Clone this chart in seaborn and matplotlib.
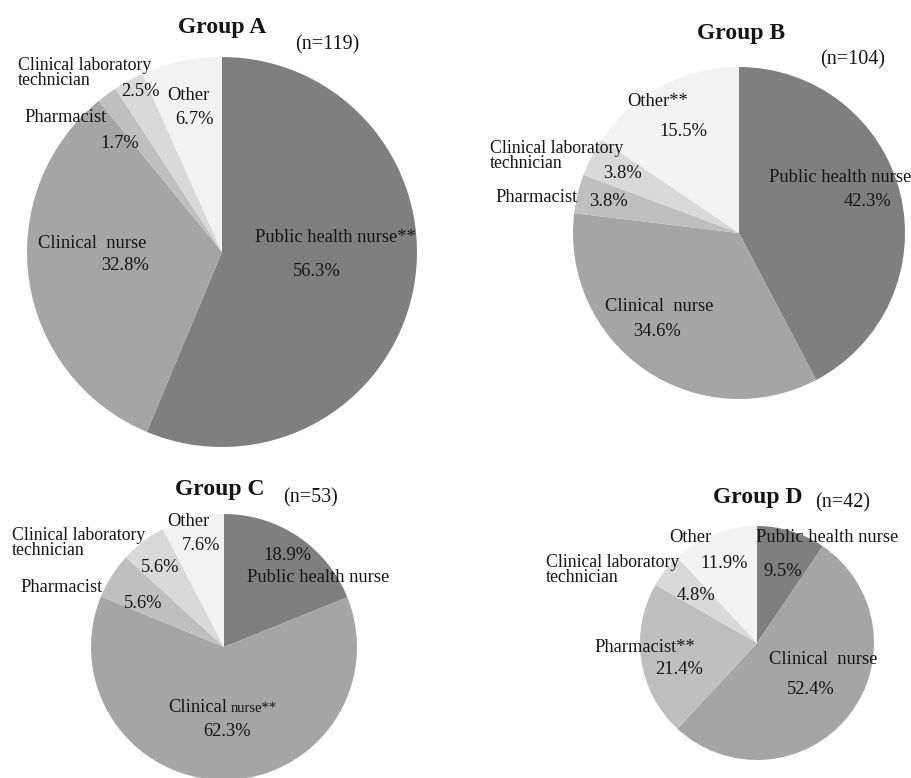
import matplotlib
matplotlib.use("Agg")
import matplotlib.pyplot as plt
import seaborn as sns

sns.set_theme(style="white")
plt.rcParams["font.family"] = ["Liberation Serif", "DejaVu Serif"]

W, H = 911, 778

# Occupation categories, drawn clockwise from 12 o'clock
categories = ["Public health nurse", "Clinical nurse", "Pharmacist",
              "Clinical laboratory technician", "Other"]
groups = ["Group A", "Group B", "Group C", "Group D"]
group_n = [119, 104, 53, 42]

share_a = [56.3, 32.8, 1.7, 2.5, 6.7]
share_b = [42.3, 34.6, 3.8, 3.8, 15.5]
share_c = [18.9, 62.3, 5.6, 5.6, 7.6]
share_d = [9.5, 52.4, 21.4, 4.8, 11.9]
shares = [share_a, share_b, share_c, share_d]

palette = sns.color_palette(["#7f7f7f", "#a5a5a5", "#bfbfbf", "#d9d9d9", "#f2f2f2"])

# pie centre (px) and radius (px) for each panel
pies = [((222, 252), 195), ((739, 233), 166), ((224, 647), 133), ((757, 643), 117)]

fig = plt.figure(figsize=(W / 100, H / 100), dpi=100)
fig.patch.set_facecolor("white")

for ((cx, cy), r), vals in zip(pies, shares):
    ax = fig.add_axes([(cx - r) / W, (H - cy - r) / H, 2 * r / W, 2 * r / H])
    ax.pie(vals, colors=palette, startangle=90, counterclock=False,
           radius=1.0, wedgeprops=dict(linewidth=0))
    ax.set_xlim(-1, 1)
    ax.set_ylim(-1, 1)
    ax.set_aspect("equal")
    ax.axis("off")


def put(x, y, s, size=13.3, ha="center", weight="normal", **kw):
    fig.text(x / W, 1 - y / H, s, ha=ha, va="center", fontsize=size,
             fontweight=weight, color="#151515", **kw)


def two_line(x, y, size=12.8):
    # tightly stacked two-line label; y is the centre of the first line
    put(x, y + 7, "Clinical laboratory\ntechnician", size, ha="left",
        linespacing=0.78, multialignment="left")


TS = 17
NS = 14.5

# Group A
put(222, 27, groups[0], TS, weight="bold")
put(327, 45, f"(n={group_n[0]})", NS)
put(335, 237, "Public health nurse**")
put(317, 272, f"{share_a[0]}%")
put(92, 243, "Clinical  nurse")
put(125, 266, f"{share_a[1]}%")
put(66, 118, "Pharmacist")
put(120, 143, f"{share_a[2]}%")
two_line(18, 66)
put(141, 91, f"{share_a[3]}%")
put(188, 96, "Other")
put(195, 120, f"{share_a[4]}%")

# Group B
put(741, 33, groups[1], TS, weight="bold")
put(853, 60, f"(n={group_n[1]})", NS)
put(840, 177, "Public health nurse")
put(867, 202, f"{share_b[0]}%")
put(659, 307, "Clinical  nurse")
put(657, 332, f"{share_b[1]}%")
put(537, 198, "Pharmacist")
put(608, 201, f"{share_b[2]}%")
two_line(490, 149)
put(623, 174, f"{share_b[3]}%")
put(658, 101, "Other**")
put(683, 131, f"{share_b[4]}%")

# Group C
put(220, 490, groups[2], TS, weight="bold")
put(310, 498, f"(n={group_n[2]})", NS)
put(287, 555, f"{share_c[0]}%")
put(318, 578, "Public health nurse")
put(227, 707, "Clinical", ha="right")
put(231, 708, "nurse**", size=10.5, ha="left")
put(227, 732, f"{share_c[1]}%")
put(62, 587, "Pharmacist")
put(143, 603, f"{share_c[2]}%")
two_line(12, 536)
put(160, 568, f"{share_c[3]}%")
put(188, 521, "Other")
put(201, 546, f"{share_c[4]}%")

# Group D
put(758, 497, groups[3], TS, weight="bold")
put(843, 503, f"(n={group_n[3]})", NS)
put(827, 538, "Public health nurse")
put(783, 571, f"{share_d[0]}%")
put(823, 660, "Clinical  nurse")
put(811, 690, f"{share_d[1]}%")
put(645, 647, "Pharmacist**")
put(679, 670, f"{share_d[2]}%")
two_line(546, 563)
put(696, 596, f"{share_d[3]}%")
put(690, 537, "Other")
put(724, 564, f"{share_d[4]}%")

fig.savefig("out.png", dpi=100, facecolor="white")
